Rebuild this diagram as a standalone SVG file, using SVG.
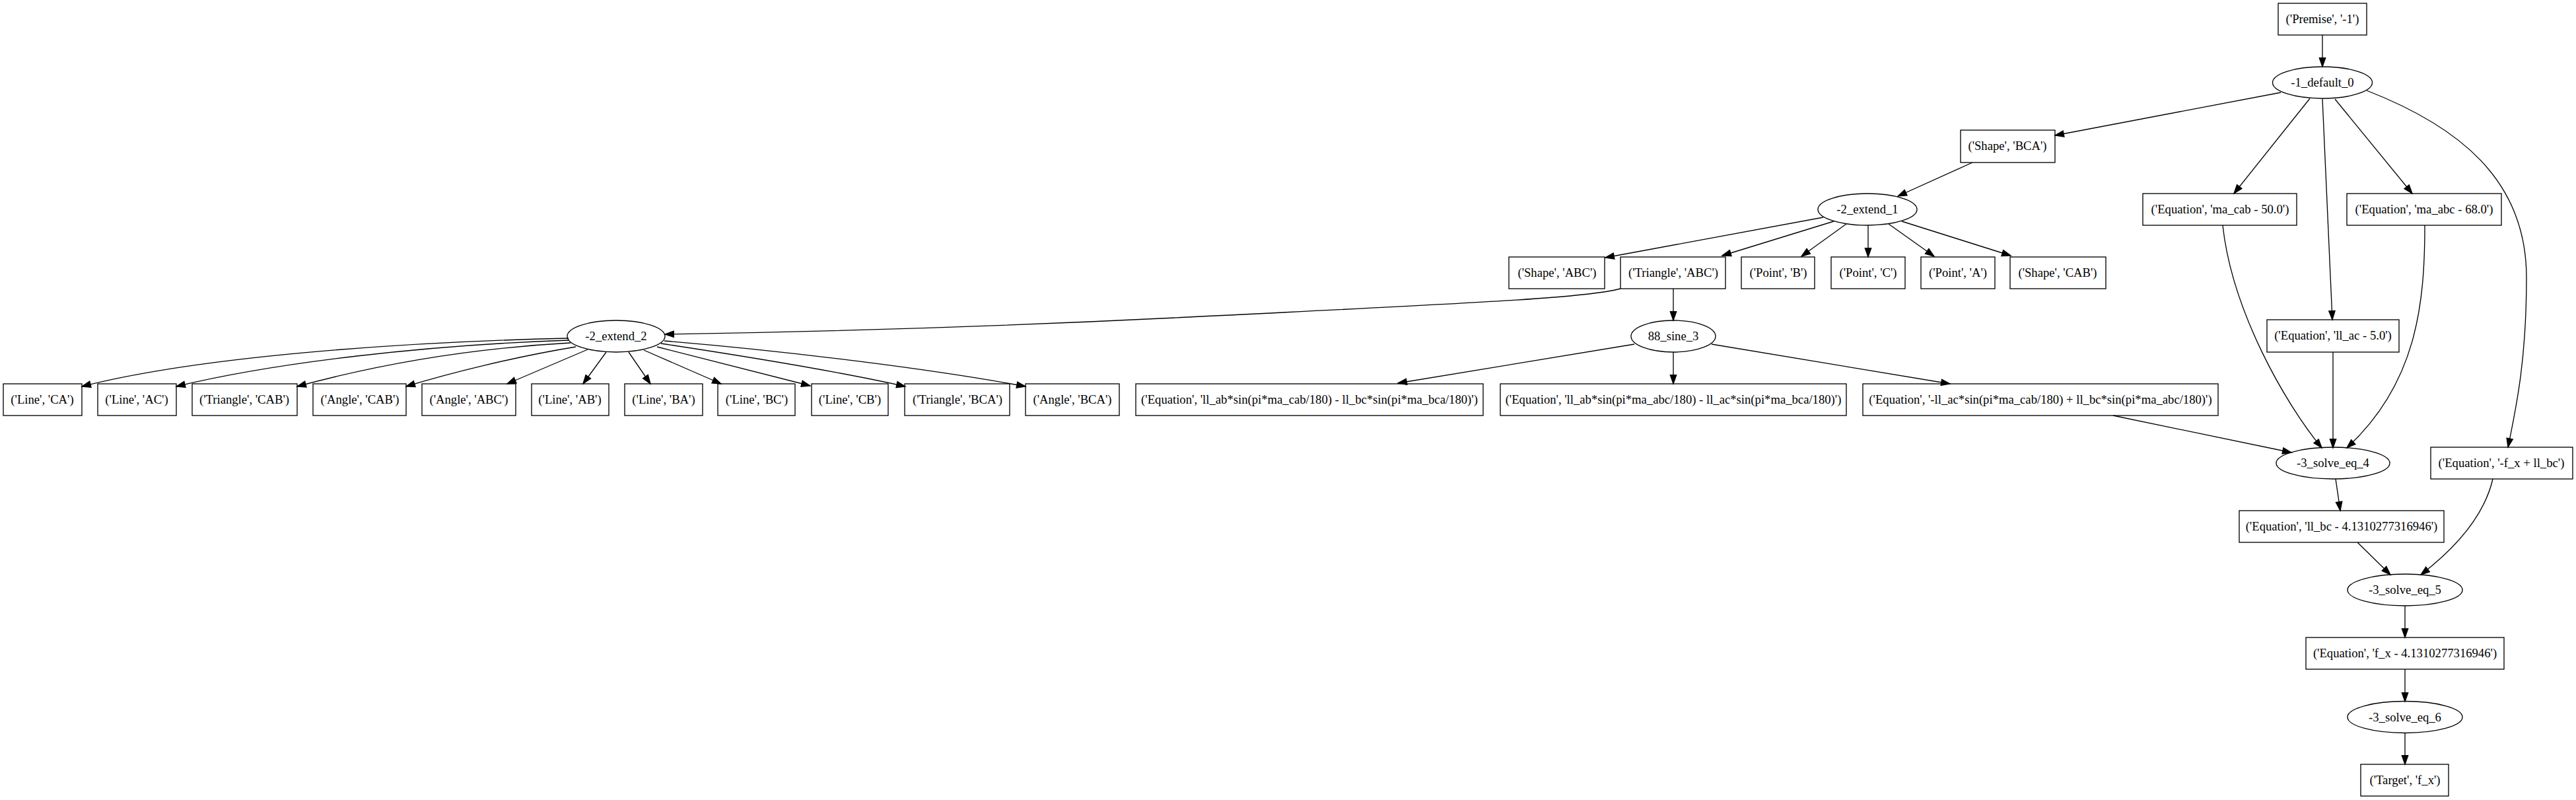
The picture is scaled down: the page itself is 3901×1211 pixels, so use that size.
<svg xmlns="http://www.w3.org/2000/svg" width="3901" height="1211" viewBox="0 0 3901 1211">
<style>
.n rect,.n ellipse{fill:none;stroke:#000;stroke-width:1.33}
.n text{font-family:"Liberation Serif","Times New Roman",serif;font-size:18.67px;text-anchor:middle;fill:#000}
.e path{fill:none;stroke:#000;stroke-width:1.33;marker-end:url(#arr)}
</style>
<defs>
<marker id="arr" markerUnits="userSpaceOnUse" markerWidth="16" markerHeight="12" refX="13.3" refY="0" viewBox="0 -6 16 12" orient="auto" overflow="visible">
<path d="M0,-4.67 L13.3,0 L0,4.67 z" fill="#000" stroke="#000" stroke-width="1.33"/>
</marker>
</defs>
<rect width="3901" height="1211" fill="#fff"/>
<g class="e" id="edges">
<path d="M3517,53 L3517,101"/>
<path d="M3454,140 L3112,205"/>
<path d="M3498,149 L3383,293"/>
<path d="M3517,150 L3532,484"/>
<path d="M3536,150 L3653,293"/>
<path d="M3584,137 C3720,190 3826,270 3826,420 C3826,540 3812,610 3798,677"/>
<path d="M2987,246 L2874,297"/>
<path d="M2761,329 L2431,390"/>
<path d="M2777,335 L2608,387"/>
<path d="M2796,339 L2728,388"/>
<path d="M2829,341 L2829,389"/>
<path d="M2860,339 L2929,388"/>
<path d="M2880,335 L3045,387"/>
<path d="M2454,437 C2400,452 2200,460 1800,480 C1500,495 1200,503 1007,506"/>
<path d="M2534,437 L2534,485"/>
<path d="M861,512 C600,518 300,540 124,585"/>
<path d="M862,515 C650,522 420,548 267,585"/>
<path d="M864,519 C700,528 560,555 450,585"/>
<path d="M872,525 C780,540 680,565 615,585"/>
<path d="M890,529 L768,581"/>
<path d="M918,533 L883,581"/>
<path d="M952,533 L985,581"/>
<path d="M975,530 L1092,581"/>
<path d="M995,525 L1227,584"/>
<path d="M1001,520 C1120,538 1260,560 1371,585"/>
<path d="M1006,516 C1200,532 1420,560 1553,585"/>
<path d="M2475,521 L2117,580"/>
<path d="M2534,533 L2534,581"/>
<path d="M2592,521 L2953,581"/>
<path d="M3200,629 L3470,685"/>
<path d="M3366,341 C3380,470 3460,610 3516,678"/>
<path d="M3533,533 L3533,678"/>
<path d="M3672,341 C3672,460 3660,580 3554,678"/>
<path d="M3537,725 L3544,773"/>
<path d="M3775,725 C3760,790 3705,840 3666,870"/>
<path d="M3570,821 L3620,870"/>
<path d="M3642,917 L3642,965"/>
<path d="M3642,1013 L3642,1062"/>
<path d="M3642,1109 L3642,1157"/>
</g>
<g class="n" id="premise"><rect x="3450" y="5" width="134" height="48"/><text x="3517" y="35">('Premise', '-1')</text></g>
<g class="n" id="default_0"><ellipse cx="3517" cy="125" rx="75.5" ry="24"/><text x="3517" y="131">-1_default_0</text></g>
<g class="n" id="shape_bca"><rect x="2969" y="197" width="143" height="49"/><text x="3040" y="227">('Shape', 'BCA')</text></g>
<g class="n" id="eq_ma_cab"><rect x="3245" y="293" width="233" height="48"/><text x="3362" y="323">('Equation', 'ma_cab - 50.0')</text></g>
<g class="n" id="eq_ma_abc"><rect x="3554" y="293" width="234" height="48"/><text x="3671" y="323">('Equation', 'ma_abc - 68.0')</text></g>
<g class="n" id="extend_1"><ellipse cx="2828" cy="317" rx="75" ry="24"/><text x="2828" y="323">-2_extend_1</text></g>
<g class="n" id="shape_abc"><rect x="2285" y="389" width="145" height="48"/><text x="2358" y="419">('Shape', 'ABC')</text></g>
<g class="n" id="triangle_abc"><rect x="2454" y="389" width="159" height="48"/><text x="2534" y="419">('Triangle', 'ABC')</text></g>
<g class="n" id="point_b"><rect x="2637" y="389" width="111" height="48"/><text x="2693" y="419">('Point', 'B')</text></g>
<g class="n" id="point_c"><rect x="2773" y="389" width="112" height="48"/><text x="2829" y="419">('Point', 'C')</text></g>
<g class="n" id="point_a"><rect x="2909" y="389" width="112" height="48"/><text x="2965" y="419">('Point', 'A')</text></g>
<g class="n" id="shape_cab"><rect x="3044" y="389" width="145" height="48"/><text x="3116" y="419">('Shape', 'CAB')</text></g>
<g class="n" id="eq_ll_ac"><rect x="3433" y="484" width="200" height="49"/><text x="3533" y="514">('Equation', 'll_ac - 5.0')</text></g>
<g class="n" id="sine_3"><ellipse cx="2534" cy="509" rx="64" ry="24"/><text x="2534" y="515">88_sine_3</text></g>
<g class="n" id="extend_2"><ellipse cx="933" cy="509" rx="74" ry="24"/><text x="933" y="515">-2_extend_2</text></g>
<g class="n" id="line_ca"><rect x="5" y="581" width="119" height="48"/><text x="64" y="611">('Line', 'CA')</text></g>
<g class="n" id="line_ac"><rect x="148" y="581" width="119" height="48"/><text x="207" y="611">('Line', 'AC')</text></g>
<g class="n" id="triangle_cab"><rect x="291" y="581" width="159" height="48"/><text x="370" y="611">('Triangle', 'CAB')</text></g>
<g class="n" id="angle_cab"><rect x="474" y="581" width="141" height="48"/><text x="545" y="611">('Angle', 'CAB')</text></g>
<g class="n" id="angle_abc"><rect x="639" y="581" width="142" height="48"/><text x="710" y="611">('Angle', 'ABC')</text></g>
<g class="n" id="line_ab"><rect x="805" y="581" width="117" height="48"/><text x="863" y="611">('Line', 'AB')</text></g>
<g class="n" id="line_ba"><rect x="946" y="581" width="118" height="48"/><text x="1005" y="611">('Line', 'BA')</text></g>
<g class="n" id="line_bc"><rect x="1087" y="581" width="117" height="48"/><text x="1146" y="611">('Line', 'BC')</text></g>
<g class="n" id="line_cb"><rect x="1229" y="581" width="116" height="48"/><text x="1287" y="611">('Line', 'CB')</text></g>
<g class="n" id="triangle_bca"><rect x="1370" y="581" width="159" height="48"/><text x="1450" y="611">('Triangle', 'BCA')</text></g>
<g class="n" id="angle_bca"><rect x="1553" y="581" width="142" height="48"/><text x="1624" y="611">('Angle', 'BCA')</text></g>
<g class="n" id="eq_sine_1"><rect x="1720" y="581" width="526" height="48"/><text x="1983" y="611">('Equation', 'll_ab*sin(pi*ma_cab/180) - ll_bc*sin(pi*ma_bca/180)')</text></g>
<g class="n" id="eq_sine_2"><rect x="2272" y="581" width="524" height="48"/><text x="2534" y="611">('Equation', 'll_ab*sin(pi*ma_abc/180) - ll_ac*sin(pi*ma_bca/180)')</text></g>
<g class="n" id="eq_sine_3"><rect x="2821" y="581" width="538" height="48"/><text x="3090" y="611">('Equation', '-ll_ac*sin(pi*ma_cab/180) + ll_bc*sin(pi*ma_abc/180)')</text></g>
<g class="n" id="solve_eq_4"><ellipse cx="3533" cy="701" rx="86" ry="24"/><text x="3533" y="707">-3_solve_eq_4</text></g>
<g class="n" id="eq_fx_llbc"><rect x="3681" y="677" width="215" height="48"/><text x="3788" y="707">('Equation', '-f_x + ll_bc')</text></g>
<g class="n" id="eq_ll_bc"><rect x="3391" y="773" width="310" height="48"/><text x="3546" y="803">('Equation', 'll_bc - 4.1310277316946')</text></g>
<g class="n" id="solve_eq_5"><ellipse cx="3642" cy="893" rx="87" ry="24"/><text x="3642" y="899">-3_solve_eq_5</text></g>
<g class="n" id="eq_f_x"><rect x="3492" y="965" width="300" height="48"/><text x="3642" y="995">('Equation', 'f_x - 4.1310277316946')</text></g>
<g class="n" id="solve_eq_6"><ellipse cx="3642" cy="1085.5" rx="87" ry="24"/><text x="3642" y="1091.5">-3_solve_eq_6</text></g>
<g class="n" id="target"><rect x="3575" y="1157" width="133" height="48"/><text x="3642" y="1187">('Target', 'f_x')</text></g>
</svg>
